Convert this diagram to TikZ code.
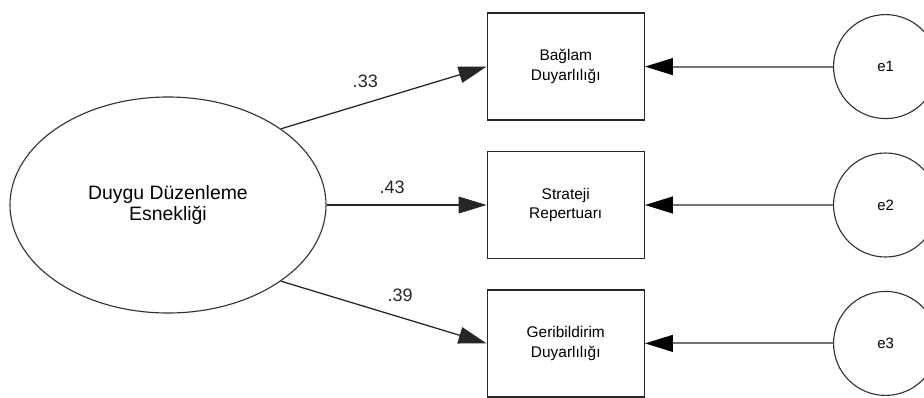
\documentclass[tikz,border=0pt]{standalone}
\usepackage{fontspec}
\setmainfont{Liberation Sans}
\usetikzlibrary{arrows.meta,positioning,shapes.geometric}

\begin{document}
\begin{tikzpicture}[
  node distance=7.5mm and 40mm,
  latent/.style={draw=black!80, line width=0.8pt, ellipse, minimum width=7.9cm, minimum height=5.4cm, inner sep=0pt, align=center, font=\fontsize{13.8}{15.6}\selectfont},
  observed/.style={draw=black!85, line width=1pt, minimum width=3.925cm, minimum height=2.675cm, align=center, font=\fontsize{11}{14}\selectfont},
  resid/.style={draw=black!80, line width=0.8pt, circle, minimum size=2.6cm, inner sep=0pt, font=\fontsize{10.6}{12}\selectfont},
  load/.style={-{Triangle[length=7mm, width=4.2mm]}, line width=0.9pt, black!85},
  errload/.style={-{Triangle[length=7mm, width=4.2mm, color=black]}, line width=1.4pt, black!55},
  coef/.style={font=\fontsize{12.8}{14}\selectfont, inner sep=3pt}
]
\clip (0,0) rectangle (23.1,-9.925);
\node[latent] (dde) at (4.2,-5.125) {Duygu Düzenleme\\Esnekliği};
\node[observed, right=4cm of dde] (strateji) {Strateji\\Repertuarı};
\node[observed, above=of strateji] (baglam) {Bağlam\\Duyarlılığı};
\node[observed, below=of strateji] (geri) {Geribildirim\\Duyarlılığı};
\node[resid, right=4.7cm of baglam] (e1) {e1};
\node[resid, right=4.7cm of strateji] (e2) {e2};
\node[resid, right=4.7cm of geri] (e3) {e3};

\draw[load] (dde.34) -- node[coef, pos=0.41, above=2.8mm] {.33} (baglam.west);
\draw[load] (dde) -- node[coef, pos=0.41, above=1.5mm] {.43} (strateji);
\draw[load] (dde.-34) -- node[coef, pos=0.58, above=2.8mm] {.39} (geri.west);
\draw[errload] (e1) -- (baglam);
\draw[errload] (e2) -- (strateji);
\draw[errload] (e3) -- (geri);
\end{tikzpicture}
\end{document}
